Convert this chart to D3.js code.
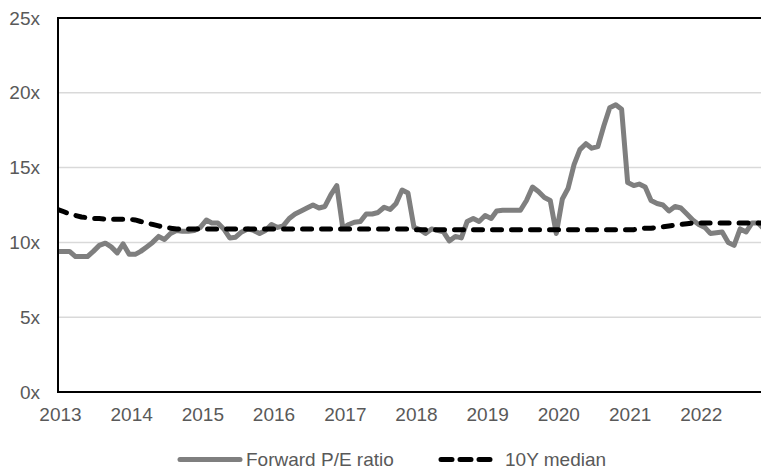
<!DOCTYPE html>
<html>
<head>
<meta charset="utf-8">
<script src="https://cdn.jsdelivr.net/npm/d3@7"></script>
<style>
  html, body { margin: 0; padding: 0; background: #fff; }
  svg { display: block; font-family: "Liberation Sans", Arial, sans-serif; }
</style>
</head>
<body>
<svg id="chart" width="761" height="470"></svg>
<script>
// ---- data (monthly, Jan 2013 onward) ----
const startYear = 2013;
const forwardPE = [
  9.4, 9.4, 9.4, 9.05, 9.05, 9.05, 9.4, 9.8, 9.95, 9.7, 9.3, 9.9,
  9.2, 9.2, 9.4, 9.7, 10.0, 10.4, 10.2, 10.6, 10.8, 10.75, 10.75, 10.8,
  11.0, 11.5, 11.3, 11.3, 10.9, 10.3, 10.35, 10.7, 10.9, 10.8, 10.6, 10.8,
  11.2, 11.0, 11.1, 11.6, 11.9, 12.1, 12.3, 12.5, 12.3, 12.4, 13.2, 13.8,
  10.95, 11.2, 11.35, 11.4, 11.9, 11.9, 12.0, 12.35, 12.2, 12.6, 13.5, 13.3,
  11.0, 10.85, 10.6, 10.9, 10.8, 10.7, 10.1, 10.4, 10.3, 11.4, 11.6, 11.4,
  11.8, 11.6, 12.1, 12.15, 12.15, 12.15, 12.15, 12.8, 13.7, 13.4, 13.0, 12.8,
  10.6, 12.9, 13.6, 15.2, 16.2, 16.6, 16.3, 16.4, 17.8, 19.0, 19.2, 18.9,
  14.0, 13.8, 13.9, 13.7, 12.8, 12.6, 12.5, 12.1, 12.4, 12.3, 11.9, 11.5,
  11.2, 11.0, 10.6, 10.65, 10.7, 10.0, 9.8, 10.9, 10.7, 11.3, 11.3, 10.9
];
const median10Y = [
  12.2, 12.05, 11.9, 11.8, 11.7, 11.65, 11.6, 11.6, 11.55, 11.55, 11.55, 11.55,
  11.55, 11.5, 11.4, 11.3, 11.2, 11.1, 11.0, 10.95, 10.9, 10.9, 10.9, 10.9,
  10.9, 10.9, 10.9, 10.9, 10.9, 10.9, 10.9, 10.9, 10.9, 10.9, 10.9, 10.9,
  10.9, 10.9, 10.9, 10.9, 10.9, 10.9, 10.9, 10.9, 10.9, 10.9, 10.9, 10.9,
  10.9, 10.9, 10.9, 10.9, 10.9, 10.9, 10.9, 10.9, 10.9, 10.9, 10.9, 10.9,
  10.85, 10.85, 10.85, 10.85, 10.85, 10.85, 10.85, 10.85, 10.85, 10.85, 10.85, 10.85,
  10.85, 10.85, 10.85, 10.85, 10.85, 10.85, 10.85, 10.85, 10.85, 10.85, 10.85, 10.85,
  10.85, 10.85, 10.85, 10.85, 10.85, 10.85, 10.85, 10.85, 10.85, 10.85, 10.85, 10.85,
  10.85, 10.85, 10.9, 10.95, 10.95, 11.0, 11.05, 11.1, 11.15, 11.2, 11.25, 11.3,
  11.3, 11.3, 11.3, 11.3, 11.3, 11.3, 11.3, 11.3, 11.3, 11.3, 11.3, 11.3
];
const yTickValues = [0, 5, 10, 15, 20, 25];
const yTickLabels = ["0x", "5x", "10x", "15x", "20x", "25x"];
const xTickYears = [2013, 2014, 2015, 2016, 2017, 2018, 2019, 2020, 2021, 2022];
const seriesNames = ["Forward P/E ratio", "10Y median"];

// ---- layout ----
const W = 761, H = 470;
const plot = { left: 58, right: 761, top: 18, bottom: 392 };
const svg = d3.select("#chart");

const dates = forwardPE.map((_, i) => new Date(Date.UTC(startYear, i, 1)));
const x = d3.scaleUtc()
  .domain([new Date(Date.UTC(2013, 0, 1)), new Date(Date.UTC(2022, 10, 16))])
  .range([plot.left, plot.right]);
const y = d3.scaleLinear().domain([0, 25]).range([plot.bottom, plot.top]);

const textColor = "#595959";
const fontSize = "19px";

// gridlines
svg.append("g").selectAll("line")
  .data(yTickValues.filter(v => v > 0 && v < 25))
  .join("line")
  .attr("x1", plot.left).attr("x2", plot.right)
  .attr("y1", d => y(d)).attr("y2", d => y(d))
  .attr("stroke", "#d9d9d9").attr("stroke-width", 1.5);

// y axis labels
const yAxis = d3.axisLeft(y).tickValues(yTickValues)
  .tickFormat((d, i) => yTickLabels[i]).tickSize(0).tickPadding(18);
const gy = svg.append("g").attr("transform", `translate(${plot.left},0)`).call(yAxis);
gy.select(".domain").remove();
gy.selectAll("text").attr("fill", textColor).style("font-size", fontSize)
  .style("font-family", "Liberation Sans, Arial, sans-serif");

// x axis labels
const xAxis = d3.axisBottom(x)
  .tickValues(xTickYears.map(yr => new Date(Date.UTC(yr, 0, 1))))
  .tickFormat(d => String(d.getUTCFullYear())).tickSize(0).tickPadding(16);
const gx = svg.append("g").attr("transform", `translate(2,${plot.bottom})`).call(xAxis);
gx.select(".domain").remove();
gx.selectAll("text").attr("fill", textColor).style("font-size", fontSize)
  .style("font-family", "Liberation Sans, Arial, sans-serif");

// clip
svg.append("clipPath").attr("id", "clip").append("rect")
  .attr("x", plot.left).attr("y", plot.top - 10)
  .attr("width", plot.right - plot.left).attr("height", plot.bottom - plot.top + 10);

const line = d3.line().x((d, i) => x(dates[i])).y(d => y(d));

const g = svg.append("g").attr("clip-path", "url(#clip)");
g.append("path").datum(forwardPE)
  .attr("d", line).attr("fill", "none")
  .attr("stroke", "#7f7f7f").attr("stroke-width", 5)
  .attr("stroke-linejoin", "round");
g.append("path").datum(median10Y)
  .attr("d", line).attr("fill", "none")
  .attr("stroke", "#000").attr("stroke-width", 5)
  .attr("stroke-dasharray", "9,10").attr("stroke-linecap", "round");

// frame
svg.append("line").attr("x1", plot.left).attr("x2", plot.left)
  .attr("y1", plot.top).attr("y2", plot.bottom)
  .attr("stroke", "#000").attr("stroke-width", 2);
svg.append("line").attr("x1", plot.left - 1).attr("x2", plot.right)
  .attr("y1", plot.top).attr("y2", plot.top)
  .attr("stroke", "#000").attr("stroke-width", 2);
svg.append("line").attr("x1", plot.left - 1).attr("x2", plot.right)
  .attr("y1", plot.bottom).attr("y2", plot.bottom)
  .attr("stroke", "#000").attr("stroke-width", 2);

// legend
const legY = 459.5;
const leg = svg.append("g");
leg.append("line").attr("x1", 180).attr("x2", 240).attr("y1", legY).attr("y2", legY)
  .attr("stroke", "#7f7f7f").attr("stroke-width", 5).attr("stroke-linecap", "round");
leg.append("text").attr("x", 246).attr("y", legY).attr("dy", "0.35em")
  .attr("fill", textColor).style("font-size", fontSize).text(seriesNames[0]);
leg.append("line").attr("x1", 441).attr("x2", 496).attr("y1", legY).attr("y2", legY)
  .attr("stroke", "#000").attr("stroke-width", 5)
  .attr("stroke-dasharray", "11,8").attr("stroke-linecap", "round");
leg.append("text").attr("x", 505).attr("y", legY).attr("dy", "0.35em")
  .attr("fill", textColor).style("font-size", fontSize).text(seriesNames[1]);
</script>
</body>
</html>
